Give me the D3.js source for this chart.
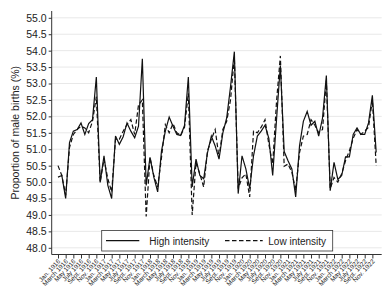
<!DOCTYPE html>
<html>
<head>
<meta charset="utf-8">
<script src="https://cdn.jsdelivr.net/npm/d3@7"></script>
<style>
  html, body { margin: 0; padding: 0; background: #ffffff; }
  svg { display: block; font-family: "Liberation Sans", Arial, sans-serif; }
</style>
</head>
<body>
<svg id="chart" width="392" height="286"></svg>
<script>
// ---- data (monthly, Jan. 1916 – Dec. 1922) ----
const highIntensity = [
  50.15, 50.2, 49.5, 51.2, 51.55, 51.6, 51.8, 51.45, 51.78, 51.9, 53.2, 49.99,
  50.8, 49.9, 49.5, 51.4, 51.15, 51.38, 51.8, 51.55, 51.35, 51.7, 53.75, 49.9,
  50.75, 50.15, 49.7, 50.95, 51.55, 51.98, 51.7, 51.45, 51.42, 51.72, 53.2, 49.85,
  50.7, 50.2, 50.1, 50.9, 51.4, 51.1, 50.7, 51.5, 51.95, 52.9, 53.97, 49.65,
  50.8, 50.4, 49.8, 50.8, 51.4, 51.55, 51.73, 51.33, 50.2, 51.9, 53.55, 50.93,
  50.65, 50.4, 49.55, 51.1, 51.85, 52.15, 51.73, 51.85, 51.4, 51.95, 53.24, 49.74,
  50.6, 50.08, 50.2, 50.77, 50.77, 51.45, 51.65, 51.45, 51.45, 51.8, 52.64, 50.9
];
const lowIntensity = [
  50.5, 50.2, 49.6, 51.05, 51.45, 51.6, 51.7, 51.65, 51.5, 51.85, 52.6, 50.0,
  50.7, 50.1, 49.7, 51.3, 51.3, 51.55, 51.75, 51.9, 51.45, 52.35, 52.5, 48.95,
  50.75, 50.2, 49.85, 50.75, 51.75, 51.5, 51.78, 51.5, 51.42, 51.67, 52.7, 49.0,
  50.6, 50.25, 49.85, 50.95, 51.3, 51.6, 50.75, 51.6, 51.85, 52.5, 53.8, 49.8,
  50.13, 50.25, 49.55, 51.55, 51.5, 51.67, 51.9, 51.15, 50.55, 52.45, 53.84, 50.48,
  50.55, 50.3, 49.75, 50.9, 51.4, 51.45, 51.9, 51.73, 51.5, 51.6, 53.1, 49.8,
  50.14, 50.0, 50.25, 50.65, 50.95, 51.33, 51.6, 51.45, 51.55, 51.67, 52.5, 50.5
];
const tickLabels = [
  "Jan. 1916","March 1916","May 1916","July 1916","Sept. 1916","Nov. 1916",
  "Jan. 1917","March 1917","May 1917","July 1917","Sept. 1917","Nov. 1917",
  "Jan. 1918","March 1918","May 1918","July 1918","Sept. 1918","Nov. 1918",
  "Jan. 1919","March 1919","May 1919","July 1919","Sept. 1919","Nov. 1919",
  "Jan. 1920","March 1920","May 1920","July 1920","Sept. 1920","Nov. 1920",
  "Jan. 1921","March 1921","May 1921","July 1921","Sept. 1921","Nov. 1921",
  "Jan. 1922","March 1922","May 1922","July 1922","Sept. 1922","Nov. 1922"
];
const yTicks = [48.0, 48.5, 49.0, 49.5, 50.0, 50.5, 51.0, 51.5, 52.0, 52.5, 53.0, 53.5, 54.0, 54.5, 55.0];
const seriesNames = ["High intensity", "Low intensity"];
const yTitle = "Proportion of male births (%)";

// ---- layout ----
const svg = d3.select("#chart");
const plotLeft = 51.7, plotRight = 381.7, plotTop = 11, plotBottom = 254.5;

const x = d3.scaleLinear().domain([0, highIntensity.length - 1]).range([58, 376.2]);
const y = d3.scaleLinear().domain([48, 55]).range([247.8, 17.8]);

// gridlines
svg.append("g")
  .selectAll("line")
  .data(yTicks)
  .join("line")
  .attr("x1", plotLeft).attr("x2", plotRight)
  .attr("y1", d => y(d)).attr("y2", d => y(d))
  .attr("stroke", "#e8e8e8").attr("stroke-width", 1);

// y axis
const yAxis = svg.append("g")
  .attr("transform", `translate(${plotLeft},0)`)
  .call(d3.axisLeft(y).tickValues(yTicks).tickFormat(d3.format(".1f")).tickSize(3).tickPadding(2));
yAxis.select(".domain").remove();
yAxis.append("line").attr("x1", 0).attr("x2", 0).attr("y1", plotTop).attr("y2", plotBottom)
  .attr("stroke", "#333").attr("stroke-width", 1);
yAxis.selectAll(".tick line").attr("stroke", "#333");
yAxis.selectAll(".tick text").attr("font-size", 10.5).attr("fill", "#222")
  .attr("font-family", "Liberation Sans, Arial, sans-serif");

// x axis
const tickIdx = tickLabels.map((_, i) => i * 2);
const xAxis = svg.append("g")
  .attr("transform", `translate(0,${plotBottom})`)
  .call(d3.axisBottom(x).tickValues(tickIdx).tickFormat((d, i) => tickLabels[i]).tickSize(4));
xAxis.select(".domain").remove();
xAxis.append("line").attr("x1", plotLeft).attr("x2", plotRight).attr("y1", 0).attr("y2", 0)
  .attr("stroke", "#333").attr("stroke-width", 1);
xAxis.selectAll(".tick line").attr("stroke", "#333");
xAxis.selectAll(".tick text")
  .attr("font-size", 6.4).attr("fill", "#222")
  .attr("font-family", "Liberation Sans, Arial, sans-serif")
  .attr("text-anchor", "end")
  .attr("dy", null)
  .attr("y", 0)
  .attr("transform", "translate(2.2,7.2) rotate(-47)");

// lines
const line = d3.line().x((d, i) => x(i)).y(d => y(d));
svg.append("path").datum(lowIntensity)
  .attr("d", line).attr("fill", "none").attr("stroke", "#111")
  .attr("stroke-width", 1.2).attr("stroke-dasharray", "4.5,2.5");
svg.append("path").datum(highIntensity)
  .attr("d", line).attr("fill", "none").attr("stroke", "#111")
  .attr("stroke-width", 1.2);

// legend
const lg = svg.append("g");
lg.append("rect").attr("x", 101.7).attr("y", 230.5).attr("width", 231).attr("height", 20.5)
  .attr("fill", "#fff").attr("stroke", "#333").attr("stroke-width", 0.8);
lg.append("line").attr("x1", 106).attr("x2", 139.3).attr("y1", 240.7).attr("y2", 240.7)
  .attr("stroke", "#111").attr("stroke-width", 1.2);
lg.append("text").attr("x", 149.3).attr("y", 244.5).attr("font-size", 10).attr("fill", "#222")
  .text(seriesNames[0]);
lg.append("line").attr("x1", 225).attr("x2", 262.7).attr("y1", 240.7).attr("y2", 240.7)
  .attr("stroke", "#111").attr("stroke-width", 1.2).attr("stroke-dasharray", "4.5,2.5");
lg.append("text").attr("x", 268.3).attr("y", 244.5).attr("font-size", 10).attr("fill", "#222")
  .text(seriesNames[1]);

// y title
svg.append("text")
  .attr("transform", `translate(18.5,${(y(48) + y(55)) / 2}) rotate(-90)`)
  .attr("text-anchor", "middle").attr("font-size", 10.5).attr("fill", "#222")
  .text(yTitle);
</script>
</body>
</html>
